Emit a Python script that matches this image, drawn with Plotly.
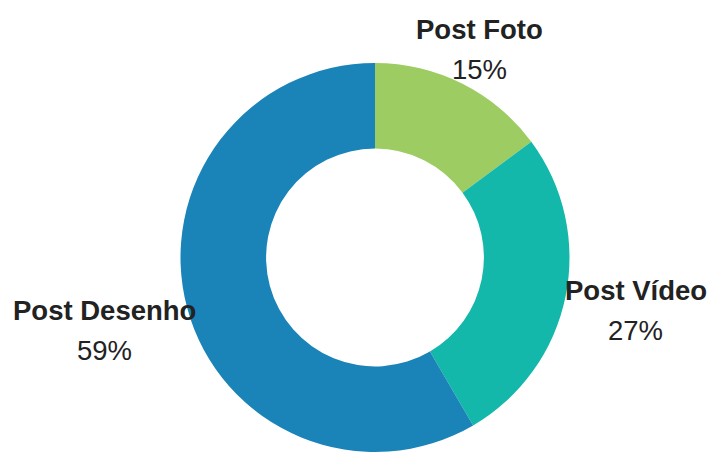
import math
import plotly.graph_objects as go

labels = ["Post Foto", "Post Vídeo", "Post Desenho"]
values = [15, 27, 59]
pct_text = ["15%", "27%", "59%"]
colors = ["#9dcd62", "#13b8ab", "#1a84b8"]

# label block distance from pie centre (pixels), along each slice's mid-angle
label_dist = [232, 266, 280]

W, H = 710, 452
cx, cy, R = 375, 258, 195
top = cy - R
FONT = "Liberation Sans, Arial, sans-serif"

fig = go.Figure(go.Pie(
    labels=labels,
    values=values,
    textinfo="none",
    hole=0.56,
    sort=False,
    direction="clockwise",
    rotation=0,
    marker=dict(colors=colors, line=dict(width=0)),
    domain=dict(x=[(cx - R) / W, (cx + R) / W], y=[0, 1 - top / H]),
    showlegend=False,
    hoverinfo="label+percent",
))

total = sum(values)
cum = 0
annotations = []
for lab, v, p, d in zip(labels, values, pct_text, label_dist):
    mid = (cum + v / 2) / total * 2 * math.pi
    cum += v
    bx = cx + d * math.sin(mid)
    by = cy - d * math.cos(mid)
    annotations.append(dict(
        x=bx / W, y=1 - (by - 21) / H, xref="paper", yref="paper",
        text=f"<b>{lab}</b>", showarrow=False, xanchor="center", yanchor="middle",
        font=dict(family=FONT, size=27.5, color="#222222"),
    ))
    annotations.append(dict(
        x=bx / W, y=1 - (by + 19) / H, xref="paper", yref="paper",
        text=p, showarrow=False, xanchor="center", yanchor="middle",
        font=dict(family=FONT, size=27.5, color="#222222"),
    ))

fig.update_layout(
    width=W, height=H,
    margin=dict(l=0, r=0, t=0, b=0),
    paper_bgcolor="white",
    plot_bgcolor="white",
    annotations=annotations,
)

fig.write_html("out.html")
